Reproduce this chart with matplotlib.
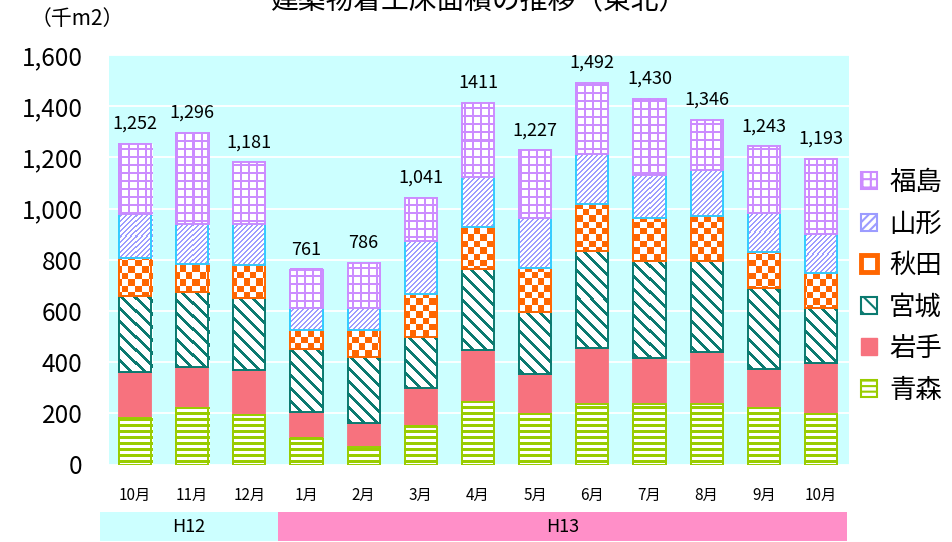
import numpy as np
import matplotlib.pyplot as plt
import matplotlib.transforms as mtransforms
from matplotlib.colors import ListedColormap
from matplotlib.patches import Patch, Rectangle

plt.rcParams['font.family'] = ['Noto Sans CJK JP', 'DejaVu Sans']
plt.rcParams['hatch.linewidth'] = 1.5

months = ['10月', '11月', '12月', '1月', '2月', '3月', '4月',
          '5月', '6月', '7月', '8月', '9月', '10月']
eras = ['H12', 'H13']
era_lengths = [3, 10]

# floor area started, thousand m2 (stack order: bottom first)
aomori = [180, 219, 193, 100, 67, 148, 243, 196, 235, 235, 235, 219, 196]
iwate = [182, 163, 176, 104, 96, 150, 204, 156, 219, 182, 203, 153, 202]
miyagi = [297, 291, 280, 247, 258, 201, 316, 245, 381, 378, 358, 316, 212]
akita = [146, 109, 130, 74, 104, 166, 166, 169, 183, 169, 175, 141, 137]
yamagata = [173, 157, 159, 85, 85, 209, 193, 198, 194, 169, 179, 155, 152]
fukushima = [274, 357, 243, 151, 176, 167, 289, 263, 280, 297, 196, 259, 294]

prefs = ['青森', '岩手', '宮城', '秋田', '山形', '福島']
series = [aomori, iwate, miyagi, akita, yamagata, fukushima]

GREEN = '#99cc00'
SALMON = '#f7727e'
TEAL = '#0b7a70'
ORANGE = '#ff6600'
LAVENDER = '#9c9cff'
CYAN = '#33ccff'
VIOLET = '#cc8cff'


# pixel patterns: X, Y are absolute pixel columns / rows (Y counted upward)
def stripes_h(X, Y):
    return (Y % 6) < 3


def stripes_back(X, Y):
    return ((X + Y) % 13) < 3.5


def stripes_fwd(X, Y):
    return ((X - Y) % 5) < 2


def grid(X, Y):
    return ((X % 8) < 2) | ((Y % 8) < 2)


def checker(X, Y):
    return ((np.floor(X / 6.4) + np.floor(Y / 6.4)) % 2) == 0


styles = {
    '青森': dict(ink=GREEN, border=GREEN, pattern=stripes_h, hatch='---'),
    '岩手': dict(ink=SALMON, border=SALMON, pattern=None, hatch=None),
    '宮城': dict(ink=TEAL, border=TEAL, pattern=stripes_back, hatch='\\\\'),
    '秋田': dict(ink=ORANGE, border=ORANGE, pattern=checker, hatch=None),
    '山形': dict(ink=LAVENDER, border=CYAN, pattern=stripes_fwd, hatch='////'),
    '福島': dict(ink=VIOLET, border=VIOLET, pattern=grid, hatch='++'),
}


def fill_pattern(ax, patch, pattern, ink):
    """Paint a bar with a pixel pattern (ink on white), clipped to the bar."""
    x0, y0 = patch.get_x(), patch.get_y()
    w, h = patch.get_width(), patch.get_height()
    (px0, py0), (px1, py1) = ax.transData.transform([(x0, y0), (x0 + w, y0 + h)])
    # snap the texture to whole device pixels
    qx0, qy0 = np.floor(px0), np.floor(py0)
    qx1, qy1 = np.ceil(px1), np.ceil(py1)
    nx, ny = int(qx1 - qx0), int(qy1 - qy0)
    cols = qx0 + np.arange(nx)
    rows = qy1 - 1 - np.arange(ny)
    X, Y = np.meshgrid(cols, rows)
    img = pattern(X, Y).astype(float)
    inv = ax.transData.inverted()
    (ex0, ey0), (ex1, ey1) = inv.transform([(qx0, qy0), (qx1, qy1)])
    ax.imshow(img, cmap=ListedColormap(['white', ink]), vmin=0, vmax=1,
              origin='upper', extent=(ex0, ex1, ey0, ey1), aspect='auto',
              interpolation='nearest', clip_path=patch, zorder=2.2)


fig = plt.figure(figsize=(9.52, 5.42), dpi=100)
ax = fig.add_axes([109 / 952, 77.5 / 542, 740 / 952, 409.5 / 542])
ax.set_facecolor('#ccffff')

x = np.arange(len(months))
width = 0.56
ax.set_xlim(-0.455, 12.49)
ax.set_ylim(0, 1600)

bottom = np.zeros(len(months))
for name, vals in zip(prefs, series):
    st = styles[name]
    bars = ax.bar(x, vals, width, bottom=bottom, color=st['ink'],
                  edgecolor=st['border'], linewidth=1.3, zorder=2)
    if st['pattern'] is not None:
        for p in bars:
            fill_pattern(ax, p, st['pattern'], st['ink'])
        ax.bar(x, vals, width, bottom=bottom, fill=False,
               edgecolor=st['border'], linewidth=1.4, zorder=3)
    bottom = bottom + np.array(vals)

ax.set_xlim(-0.455, 12.49)
ax.set_ylim(0, 1600)

# totals above each bar
totals = np.sum(series, axis=0)
for i, t in enumerate(totals):
    label = f'{t:,}'
    if months[i] == '4月':
        label = str(t)  # this one is printed without a separator
    ax.annotate(label, (x[i], t), xytext=(0, 8), textcoords='offset points',
                ha='center', va='bottom', fontsize=13)

ax.set_yticks(np.arange(0, 1601, 200))
ax.set_yticklabels([f'{v:,}' for v in range(0, 1601, 200)])
ax.tick_params(axis='y', length=0, pad=19, labelsize=17.5)
ax.set_xticks(x)
ax.set_xticklabels(months)
ax.tick_params(axis='x', length=0, pad=16, labelsize=11)
ax.yaxis.grid(True, color='white', linewidth=1.3)
ax.set_axisbelow(True)
for s in ax.spines.values():
    s.set_visible(False)

# era band under the month labels
band = mtransforms.blended_transform_factory(ax.transData, fig.transFigure)
edges = np.concatenate([[0], np.cumsum(era_lengths)]) - 0.5
edges[0] -= 0.11
edges[-1] -= 0.05
era_colors = ['#ccffff', '#ff8fc8']
for i, era in enumerate(eras):
    fig.add_artist(Rectangle((edges[i], 0.002), edges[i + 1] - edges[i], 0.053,
                             transform=band, facecolor=era_colors[i],
                             edgecolor='none'))
    fig.text((edges[i] + edges[i + 1]) / 2, 0.0285, era, transform=band,
             ha='center', va='center', fontsize=13)

# legend, top entry first
handles = []
for name in prefs[::-1]:
    st = styles[name]
    if name == '秋田':
        h = Patch(facecolor='white', edgecolor=ORANGE, linewidth=3.5)
    elif name == '岩手':
        h = Patch(facecolor=SALMON, edgecolor=SALMON)
    else:
        h = Patch(facecolor='white', edgecolor=st['ink'], hatch=st['hatch'],
                  linewidth=1.5)
    handles.append(h)
fig.legend(handles, prefs[::-1], loc='upper left',
           bbox_to_anchor=(861 / 952, 1 - 169 / 542), frameon=False,
           fontsize=19, handlelength=0.62, handleheight=0.62,
           handletextpad=0.45, labelspacing=0.55, borderpad=0,
           borderaxespad=0)

fig.text(77 / 952, 1 - 19 / 542, '（千m2）', ha='center', va='center',
         fontsize=15)
fig.text(478 / 952, 1 - 9 / 542, '建築物着工床面積の推移（東北）',
         ha='center', va='baseline', fontsize=20)

fig.savefig('out.png', dpi=100)
